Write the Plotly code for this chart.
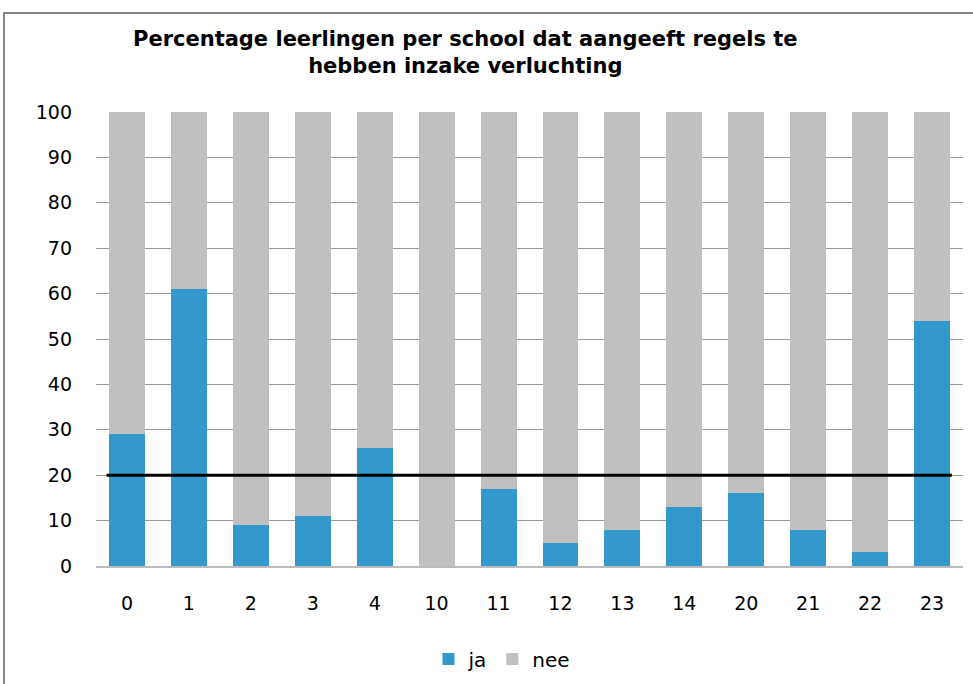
import plotly.graph_objects as go

categories = ["0", "1", "2", "3", "4", "10", "11", "12", "13", "14", "20", "21", "22", "23"]
ja = [29, 61, 9, 11, 26, 0, 17, 5, 8, 13, 16, 8, 3, 54]
nee = [100 - v for v in ja]
threshold = 20
y_ticks = [0, 10, 20, 30, 40, 50, 60, 70, 80, 90, 100]

BLUE = "#3399CC"
GRAY = "#C0C0C0"
FONT = "DejaVu Sans"

fig = go.Figure()
fig.add_trace(go.Bar(x=categories, y=ja, name="ja", marker=dict(color=BLUE, line=dict(width=0))))
fig.add_trace(go.Bar(x=categories, y=nee, name="nee", marker=dict(color=GRAY, line=dict(width=0))))

L, R, T, B = 96, 10, 112, 118
W, H = 973, 684
pw = W - L - R
ph = H - T - B

def px_x(x):
    return (x - L) / pw

def px_y(y):
    return (H - B - y) / ph

fig.add_shape(type="line", xref="x", yref="y", x0=-0.33, x1=len(categories) - 1 + 0.32,
              y0=threshold, y1=threshold, line=dict(color="black", width=3))

fig.add_shape(type="rect", xref="paper", yref="paper",
              x0=px_x(4), x1=px_x(990), y0=px_y(700), y1=px_y(13),
              line=dict(color="#868686", width=2), layer="below")

fig.add_annotation(xref="paper", yref="paper", x=px_x(465), y=px_y(53), xanchor="center", yanchor="middle",
                   text="<b>Percentage leerlingen per school dat aangeeft regels te<br>hebben inzake verluchting</b>",
                   showarrow=False, font=dict(family=FONT, size=21, color="black"), align="center")

fig.update_layout(
    width=W, height=H,
    margin=dict(l=L, r=R, t=T, b=B, autoexpand=False),
    paper_bgcolor="white", plot_bgcolor="white",
    barmode="stack", bargap=0.42,
    showlegend=True,
    legend=dict(orientation="h", x=502 / W, xref="container", y=1 - 659 / H, yref="container",
                xanchor="center", yanchor="middle",
                font=dict(family=FONT, size=20, color="black"), itemwidth=30, traceorder="normal"),
    font=dict(family=FONT, size=19, color="black"),
)
fig.update_xaxes(type="category", showgrid=False, showline=True, linecolor="#BBBBBB", linewidth=2,
                 ticks="", tickfont=dict(family=FONT, size=19), ticklabelstandoff=19, automargin=False)
fig.update_yaxes(range=[0, 100], tickvals=y_ticks, showgrid=True, gridcolor="#9A9A9A", gridwidth=1,
                 zeroline=False, showline=False, ticks="", tickfont=dict(family=FONT, size=19),
                 ticklabelstandoff=23, automargin=False)

fig.write_html("out.html", config={"displayModeBar": False},
               post_script="document.body.style.margin='0px';")
